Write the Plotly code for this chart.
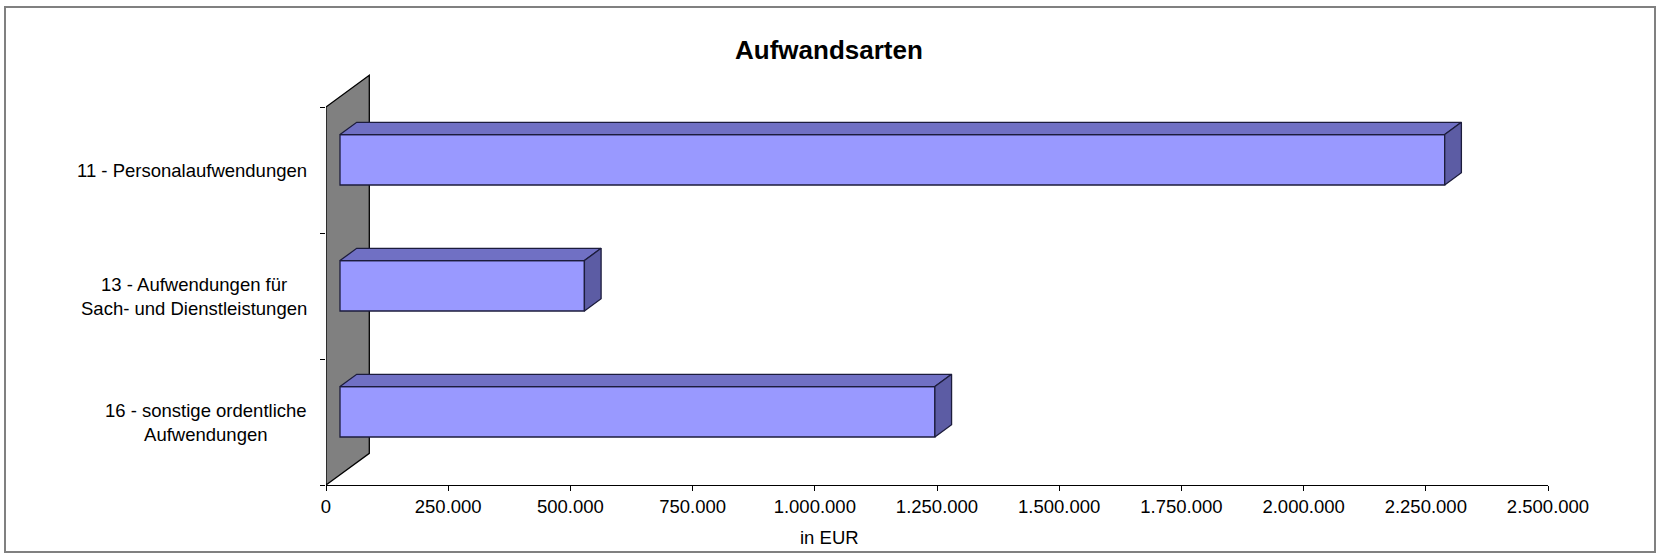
import plotly.graph_objects as go

# ---------------- data ----------------
categories = [
    "11 - Personalaufwendungen",
    "13 - Aufwendungen für<br>Sach- und Dienstleistungen",
    "16 - sonstige ordentliche<br>Aufwendungen",
]
values = [2260000, 500000, 1217000]
tick_values = [0, 250000, 500000, 750000, 1000000, 1250000, 1500000,
               1750000, 2000000, 2250000, 2500000]
tick_labels = ["0", "250.000", "500.000", "750.000", "1.000.000", "1.250.000",
               "1.500.000", "1.750.000", "2.000.000", "2.250.000", "2.500.000"]
title_text = "Aufwandsarten"
x_title = "in EUR"

# ---------------- layout geometry (pixels) ----------------
W, H = 1660, 557
L_PX, R_PX = 326, 1548          # x = 0 .. 2.5M
T_PX, B_PX = 60, 485            # plot area top / bottom
XMAX = 2500000
CAT_PX = 126.0                  # pixels per category band
PPX = (R_PX - L_PX) / XMAX      # pixels per EUR
Y_BOT = -0.5
Y_TOP = Y_BOT + (B_PX - T_PX) / CAT_PX


def dx(px):
    return px / PPX


def dy(px):
    return px / CAT_PX


def paper_x(px):
    return (px - L_PX) / (R_PX - L_PX)


def paper_y(py):
    return (B_PX - py) / (B_PX - T_PX)


FONT = "Liberation Sans, Arial, sans-serif"
WALL_DX, WALL_DY = 43.3, 31.7
FRONT_DX, FRONT_DY = 14.0, 10.2
DEPTH_DX, DEPTH_DY = 16.7, 12.3
BAR_W = 0.4
EDGE = "#1c1c3c"

ypos = [2, 1, 0]

fig = go.Figure()

# front faces of the bars (real bar trace)
fig.add_trace(go.Bar(
    orientation="h",
    y=[p + dy(FRONT_DY) for p in ypos],
    x=values,
    base=dx(FRONT_DX),
    width=BAR_W,
    marker=dict(color="#9999FF", line=dict(color=EDGE, width=1.3)),
    hoverinfo="skip",
    showlegend=False,
))

# 3D top and side faces derived from the same values
for p, v in zip(ypos, values):
    x0 = dx(FRONT_DX)
    x1 = x0 + v
    yc = p + dy(FRONT_DY)
    yt = yc + BAR_W / 2
    yb = yc - BAR_W / 2
    ddx, ddy = dx(DEPTH_DX), dy(DEPTH_DY)
    fig.add_trace(go.Scatter(
        x=[x0, x1, x1 + ddx, x0 + ddx, x0],
        y=[yt, yt, yt + ddy, yt + ddy, yt],
        fill="toself", fillcolor="#7070C4", mode="lines",
        line=dict(color=EDGE, width=1.3),
        hoverinfo="skip", showlegend=False,
    ))
    fig.add_trace(go.Scatter(
        x=[x1, x1 + ddx, x1 + ddx, x1, x1],
        y=[yb, yb + ddy, yt + ddy, yt, yb],
        fill="toself", fillcolor="#5C5CA4", mode="lines",
        line=dict(color=EDGE, width=1.3),
        hoverinfo="skip", showlegend=False,
    ))

shapes = []
# gray side wall
wx, wy = dx(WALL_DX), dy(WALL_DY)
shapes.append(dict(
    type="path", xref="x", yref="y", layer="below",
    path=f"M 0 {Y_BOT} L 0 2.5 L {wx} {2.5 + wy} L {wx} {Y_BOT + wy} Z",
    fillcolor="#808080", line=dict(color="#000000", width=1.3),
))
# outer chart border
shapes.append(dict(
    type="rect", xref="paper", yref="paper", layer="above",
    x0=paper_x(5), x1=paper_x(1655), y0=paper_y(552), y1=paper_y(7),
    line=dict(color="#808080", width=2), fillcolor="rgba(0,0,0,0)",
))

annotations = []
for p, c in zip(ypos, categories):
    annotations.append(dict(
        xref="paper", yref="y", x=paper_x(309), y=p,
        text=c, showarrow=False, xanchor="right", yanchor="middle",
        align="center", font=dict(family=FONT, size=18.5, color="#000000"),
    ))
annotations.append(dict(
    xref="paper", yref="paper", x=paper_x(829), y=paper_y(50),
    text=f"<b>{title_text}</b>", showarrow=False,
    xanchor="center", yanchor="middle",
    font=dict(family=FONT, size=26, color="#000000"),
))
annotations.append(dict(
    xref="paper", yref="paper", x=paper_x(829), y=paper_y(537),
    text=x_title, showarrow=False, xanchor="center", yanchor="middle",
    font=dict(family=FONT, size=18.5, color="#000000"),
))

fig.update_layout(
    width=W, height=H,
    margin=dict(l=L_PX, r=W - R_PX, t=T_PX, b=H - B_PX, pad=0),
    paper_bgcolor="#FFFFFF", plot_bgcolor="#FFFFFF",
    showlegend=False,
    shapes=shapes, annotations=annotations,
    xaxis=dict(
        range=[0, XMAX], tickvals=tick_values, ticktext=tick_labels,
        showline=True, linecolor="#000000", linewidth=1.3,
        ticks="outside", ticklen=5, tickcolor="#000000", tickwidth=1.3,
        showgrid=False, zeroline=False,
        tickfont=dict(family=FONT, size=18.5, color="#000000"),
        fixedrange=True,
    ),
    yaxis=dict(
        range=[Y_BOT, Y_TOP], tickvals=[-0.5, 0.5, 1.5, 2.5],
        showticklabels=False, ticks="outside", ticklen=5,
        tickcolor="#000000", tickwidth=1.3,
        showline=False, showgrid=False, zeroline=False, fixedrange=True,
    ),
)

fig.write_html(
    "out.html",
    config={"displayModeBar": False},
    post_script="document.body.style.margin='0';document.body.style.overflow='hidden';",
)
